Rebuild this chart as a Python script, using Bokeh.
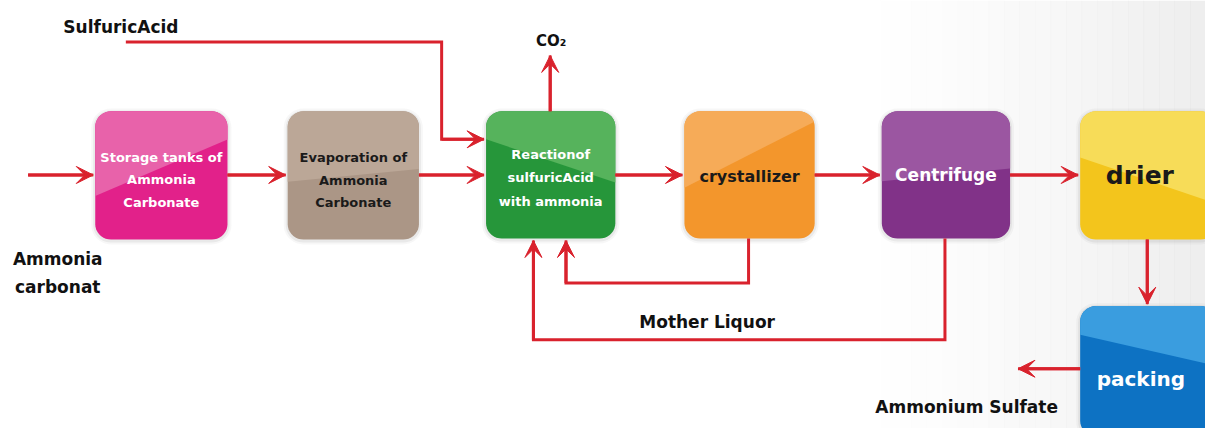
import numpy as np
from bokeh.plotting import figure
from bokeh.models import Range1d, Arrow, VeeHead
from bokeh.core.properties import value
from bokeh.embed import file_html
from bokeh.resources import INLINE

# ---------------- data ----------------
steps = ["storage", "evaporation", "reaction", "crystallizer", "centrifuge", "drier", "packing"]
step_lines = [
    ["Storage tanks of", "Ammonia", "Carbonate"],
    ["Evaporation of", "Ammonia", "Carbonate"],
    ["Reactionof", "sulfuricAcid", "with ammonia"],
    ["crystallizer"],
    ["Centrifuge"],
    ["drier"],
    ["packing"],
]
stream_labels = ["SulfuricAcid", "CO\u2082", "Ammonia", "carbonat", "Mother Liquor", "Ammonium Sulfate"]

# ---------------- layout (pixel-like coords, y downward) ----------------
box_l = [96, 291, 492, 693, 893, 1094, 1094]
box_t = [115, 115, 115, 115, 115, 115, 317]
box_r = [230, 424, 623, 825, 1023, 1232, 1232]
box_b = [248, 248, 247, 247, 247, 248, 452]
base_col = ["#e2218a", "#ab9686", "#26963a", "#f3962c", "#813288", "#f3c51c", "#0d72c3"]
gloss_col = ["#e862aa", "#bba797", "#56b35c", "#f6ab58", "#9b56a1", "#f7dc58", "#3a9ddf"]
gloss_lr = [(0.66, 0.22), (0.55, 0.45), (0.22, 0.56), (0.6, 0.08), (0.55, 0.45), (0.36, 0.72), (0.22, 0.46)]
text_col = ["#ffffff", "#1a1a1a", "#ffffff", "#1a1a1a", "#ffffff", "#1a1a1a", "#ffffff"]
text_size = [13, 13, 13, 16, 17, 25, 20]
text_rows = [[163, 186, 210], [163, 187, 210], [160, 184, 208], [183], [181], [182], [393]]
text_dx = [0, 0, 0, 0, 0, -3, -2]

paths = [
    [(28, 181), (94, 181)],
    [(230, 181), (289, 181)],
    [(424, 181), (490, 181)],
    [(127, 43), (447, 43), (447, 144), (490, 144)],
    [(557, 115), (557, 57)],
    [(623, 181), (691, 181)],
    [(825, 181), (891, 181)],
    [(1023, 181), (1092, 181)],
    [(1162, 248), (1162, 315)],
    [(1094, 382), (1031, 382)],
    [(758, 247), (758, 293), (573, 293), (573, 249)],
    [(957, 247), (957, 352), (540, 352), (540, 249)],
]
label_xy = [(122, 27), (558, 42), (58, 268), (58, 297), (716, 333), (979, 422)]
label_size = [17, 15, 17, 17, 17, 17]

RED = "#d9222d"


def rounded(l, t, r, b, rad=16, n=10):
    pts = []
    for cx, cy, a0 in [(r - rad, t + rad, -90), (r - rad, b - rad, 0), (l + rad, b - rad, 90), (l + rad, t + rad, 180)]:
        for a in np.linspace(a0, a0 + 90, n):
            ar = np.radians(a)
            pts.append((cx + rad * np.cos(ar), cy + rad * np.sin(ar)))
    return pts


def clip_above(pts, x0, y0, x1, y1):
    def f(p):
        yl = y0 + (y1 - y0) * (p[0] - x0) / (x1 - x0)
        return yl - p[1]
    out = []
    n = len(pts)
    for i in range(n):
        a, b = pts[i], pts[(i + 1) % n]
        fa, fb = f(a), f(b)
        if fa >= 0:
            out.append(a)
        if (fa >= 0) != (fb >= 0):
            t = fa / (fa - fb)
            out.append((a[0] + t * (b[0] - a[0]), a[1] + t * (b[1] - a[1])))
    return out


W, H = 1205, 428
p = figure(width=W, height=H, x_range=Range1d(0, 1221), y_range=Range1d(444, 0),
           output_backend="svg", toolbar_location=None, min_border=0)
p.axis.visible = False
p.grid.visible = False
p.outline_line_color = None
p.background_fill_color = "#ffffff"
p.border_fill_color = "#ffffff"

# soft grey background on the right
xs = np.linspace(860, 1221, 24)
for i in range(len(xs) - 1):
    a = (i / (len(xs) - 2)) ** 1.4 * 0.6
    p.quad(left=xs[i], right=xs[i + 1] + 0.5, top=0, bottom=444, fill_color="#e2e2e2",
           fill_alpha=a, line_color=None)

# boxes
for i in range(len(steps)):
    l, t, r, b = box_l[i], box_t[i], box_r[i], box_b[i]
    for g, al in [(4, 0.06), (2, 0.10)]:
        sh = rounded(l - g, t - g + 1, r + g, b + g + 1, rad=16 + g)
        p.patch([q[0] for q in sh], [q[1] for q in sh], fill_color="#777777", fill_alpha=al, line_color=None)
    poly = rounded(l, t, r, b)
    p.patch([q[0] for q in poly], [q[1] for q in poly], fill_color=base_col[i], line_color=None)
    fl, fr = gloss_lr[i]
    gl = clip_above(poly, l, t + fl * (b - t), r, t + fr * (b - t))
    if gl:
        p.patch([q[0] for q in gl], [q[1] for q in gl], fill_color=gloss_col[i], line_color=None)
    cx = (l + min(r, 1221)) / 2 + text_dx[i]
    for line, yy in zip(step_lines[i], text_rows[i]):
        p.text(x=[cx], y=[yy], text=[line], text_color=text_col[i], text_font=value("DejaVu Sans"),
               text_font_style="bold", text_font_size=f"{text_size[i]}px",
               text_align="center", text_baseline="middle")

# flow lines
for path in paths:
    xs_ = [q[0] for q in path]
    ys_ = [q[1] for q in path]
    p.line(xs_, ys_, line_color=RED, line_width=3, line_join="miter")
    (x0, y0), (x1, y1) = path[-2], path[-1]
    p.add_layout(Arrow(end=VeeHead(size=17, fill_color=RED, line_color=RED, line_width=1),
                       x_start=x0, y_start=y0, x_end=x1, y_end=y1,
                       line_color=RED, line_width=3))

# stream labels
for lab, (x, y), s in zip(stream_labels, label_xy, label_size):
    p.text(x=[x], y=[y], text=[lab], text_color="#111111", text_font=value("DejaVu Sans"),
           text_font_style="bold", text_font_size=f"{s}px", text_align="center", text_baseline="middle")

open("out.html", "w").write(file_html(p, INLINE))
